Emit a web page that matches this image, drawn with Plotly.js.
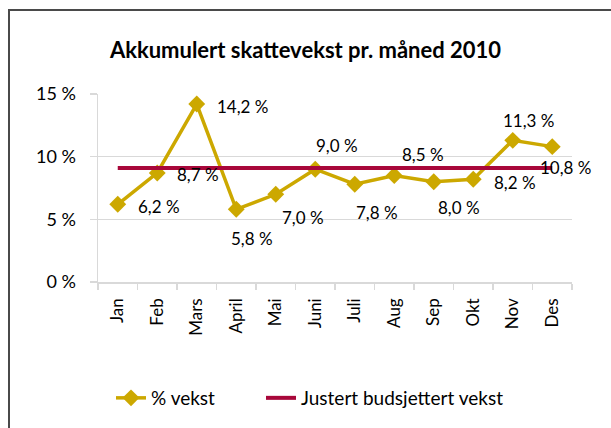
<!DOCTYPE html>
<html>
<head>
<meta charset="utf-8">
<script src="https://cdn.plot.ly/plotly-3.0.1.min.js"></script>
<style>
  html, body { margin: 0; padding: 0; background: #fff; }
  #wrap { position: relative; width: 611px; height: 428px; overflow: hidden; }
  #chart { position: absolute; left: 0; top: 0; width: 611px; height: 428px; }
  #frame { position: absolute; left: 8px; top: 9px; width: 700px; height: 500px;
           border-left: 2px solid #4a4a4a; border-top: 2px solid #4a4a4a; pointer-events: none; }
</style>
</head>
<body>
<div id="wrap"><div id="chart"></div><div id="frame"></div></div>
<script>
// ---- data ----
const months = ["Jan", "Feb", "Mars", "April", "Mai", "Juni", "Juli", "Aug", "Sep", "Okt", "Nov", "Des"];
const growth = [6.2, 8.7, 14.2, 5.8, 7.0, 9.0, 7.8, 8.5, 8.0, 8.2, 11.3, 10.8];
const budget = [9.1, 9.1, 9.1, 9.1, 9.1, 9.1, 9.1, 9.1, 9.1, 9.1, 9.1, 9.1];
const growthName = "% vekst";
const budgetName = "Justert budsjettert vekst";
const titleText = "Akkumulert skattevekst pr. måned 2010";

// ---- label placement (pixel offsets from each point) ----
const labelDx = [41, 41, 46, 16, 27, 22, 22, 29, 25, 42, 16, 13];
const labelDy = [-2, -2, -2, -29, -23, 24, -28, 21, -26, -3, 20, -21];

const FONT = "Lato, 'Open Sans', sans-serif";
const GOLD = "#CCA800";
const CRIMSON = "#A8073A";

const fmt = v => v.toFixed(1).replace(".", ",") + " %";

const traces = [
  {
    x: months, y: growth, name: growthName, type: "scatter", mode: "lines+markers",
    line: { color: GOLD, width: 3.5 },
    marker: { symbol: "diamond", size: 13, color: GOLD },
    legend: "legend",
    hoverinfo: "skip"
  },
  {
    x: months, y: budget, name: budgetName, type: "scatter", mode: "lines",
    line: { color: CRIMSON, width: 4 },
    legend: "legend2",
    hoverinfo: "skip"
  }
];

const annotations = months.map((m, i) => ({
  x: m, y: growth[i], xref: "x", yref: "y",
  text: fmt(growth[i]), showarrow: false,
  xanchor: "center", yanchor: "middle",
  xshift: labelDx[i], yshift: labelDy[i],
  font: { family: FONT, size: 17, color: "#000" }
}));

const legendBase = {
  orientation: "h",
  xref: "container", yref: "container",
  xanchor: "left",
  y: 1 - 398 / 428, yanchor: "middle",
  font: { family: FONT, size: 19, color: "#000" },
  bgcolor: "rgba(0,0,0,0)", borderwidth: 0
};

const layout = {
  width: 611, height: 428,
  margin: { l: 98, r: 39, t: 94, b: 146, pad: 0, autoexpand: false },
  paper_bgcolor: "#fff", plot_bgcolor: "#fff",
  font: { family: FONT, size: 17, color: "#000" },
  title: {
    text: "<b>" + titleText + "</b>",
    font: { family: FONT, size: 22, color: "#000" },
    xref: "container", x: 0.5, xanchor: "center",
    yref: "container", y: 1 - 50 / 428, yanchor: "middle"
  },
  xaxis: {
    type: "category", range: [-0.5, 11.5], tickson: "boundaries",
    ticks: "outside", ticklen: 6, tickcolor: "#d9d9d9", tickwidth: 1.5,
    showline: true, linecolor: "#d9d9d9", linewidth: 1.5,
    showgrid: false, zeroline: false, tickangle: -90,
    tickfont: { family: FONT, size: 17, color: "#000" },
    ticklabelstandoff: 8, automargin: false,
    fixedrange: true
  },
  yaxis: {
    range: [0, 15], dtick: 5, tick0: 0, ticksuffix: " %",
    ticks: "outside", ticklen: 7, tickcolor: "#d9d9d9", tickwidth: 1.5,
    showline: true, linecolor: "#d9d9d9", linewidth: 1.5,
    showgrid: true, gridcolor: "#d9d9d9", gridwidth: 1.5,
    zeroline: false,
    tickfont: { family: FONT, size: 18, color: "#000" },
    ticklabelstandoff: 10, automargin: false,
    fixedrange: true
  },
  showlegend: true,
  legend: Object.assign({}, legendBase, { x: 111 / 611 }),
  legend2: Object.assign({}, legendBase, { x: 261 / 611 }),
  annotations: annotations
};

Plotly.newPlot("chart", traces, layout, { displayModeBar: false, staticPlot: true });
</script>
</body>
</html>
